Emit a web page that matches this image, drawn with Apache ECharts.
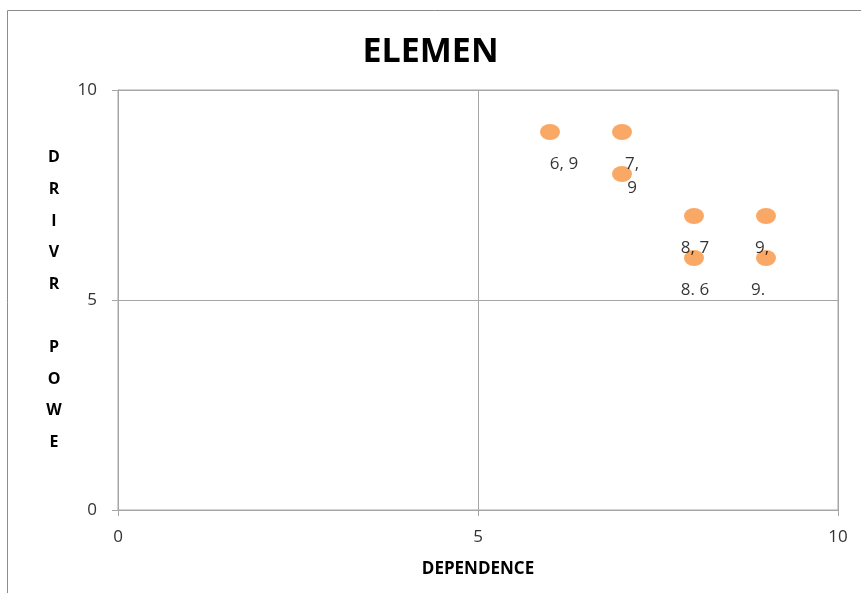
<!DOCTYPE html>
<html><head><meta charset="utf-8">
<script src="https://cdn.jsdelivr.net/npm/echarts@6/dist/echarts.min.js"></script>
<style>html,body{margin:0;padding:0;background:#fff}#c{width:861px;height:593px}</style>
</head><body><div id="c"></div>
<script>
const xValues = [6, 7, 7, 8, 9, 8, 9];
const yValues = [9, 9, 8, 7, 7, 6, 6];
const pointLabels = ['6, 9', '7,\n9', '', '8, 7', '9,', '8. 6', '9.'];
const labelShift = [14, 10, 0, 1, -4, 1, -8];
const xTicks = [0, 5, 10];
const yTicks = [0, 5, 10];
const yName = ['D','R','I','V','R','','P','O','W','E'];

const chart = echarts.init(document.getElementById('c'));
const grey = '#a6a6a6';
const txt = '#333';
const font = '"Open Sans", "Noto Sans", sans-serif';
chart.setOption({
  animation: false,
  title: {
    text: 'ELEMEN', left: 'center', top: 30,
    textStyle: {fontFamily: font, fontWeight: 'bold', fontSize: 34, color: '#000'}
  },
  graphic: [
    {type: 'rect', shape: {x: 7.5, y: 10.5, width: 900, height: 700},
     style: {fill: 'none', stroke: '#8c8c8c', lineWidth: 1}, z: -1},
    {type: 'text', x: 54, y: 142,
     style: {text: yName.join('\n'), font: 'bold 16px ' + font, lineHeight: 31.6, fill: '#000', align: 'center', verticalAlign: 'top'}}
  ],
  grid: {left: 118, right: 23, top: 90, bottom: 83, show: true, borderColor: grey, borderWidth: 1},
  xAxis: {
    type: 'value', min: xTicks[0], max: xTicks[xTicks.length - 1], interval: 5,
    name: 'DEPENDENCE', nameLocation: 'middle', nameGap: 51,
    nameTextStyle: {fontFamily: font, fontWeight: 'bold', fontSize: 17, color: '#000'},
    axisLine: {show: true, lineStyle: {color: grey}},
    axisTick: {show: true, length: 6, lineStyle: {color: grey}},
    splitLine: {show: true, lineStyle: {color: grey}},
    axisLabel: {fontFamily: font, fontSize: 17, color: txt, margin: 19}
  },
  yAxis: {
    type: 'value', min: yTicks[0], max: yTicks[yTicks.length - 1], interval: 5,
    axisLine: {show: true, lineStyle: {color: grey}},
    axisTick: {show: true, length: 6, lineStyle: {color: grey}},
    splitLine: {show: true, lineStyle: {color: grey}},
    axisLabel: {fontFamily: font, fontSize: 17, color: txt, margin: 21}
  },
  series: [{
    type: 'scatter',
    symbol: 'circle',
    symbolSize: [20, 16],
    itemStyle: {color: '#f79240'},
    data: xValues.map((x, i) => ({
      value: [x, yValues[i]],
      label: {
        show: pointLabels[i] !== '',
        formatter: pointLabels[i],
        position: 'bottom',
        distance: 12,
        offset: [labelShift[i], 0],
        fontFamily: font, fontSize: 17, color: '#000', lineHeight: 24
      }
    }))
  }]
});
</script></body></html>
